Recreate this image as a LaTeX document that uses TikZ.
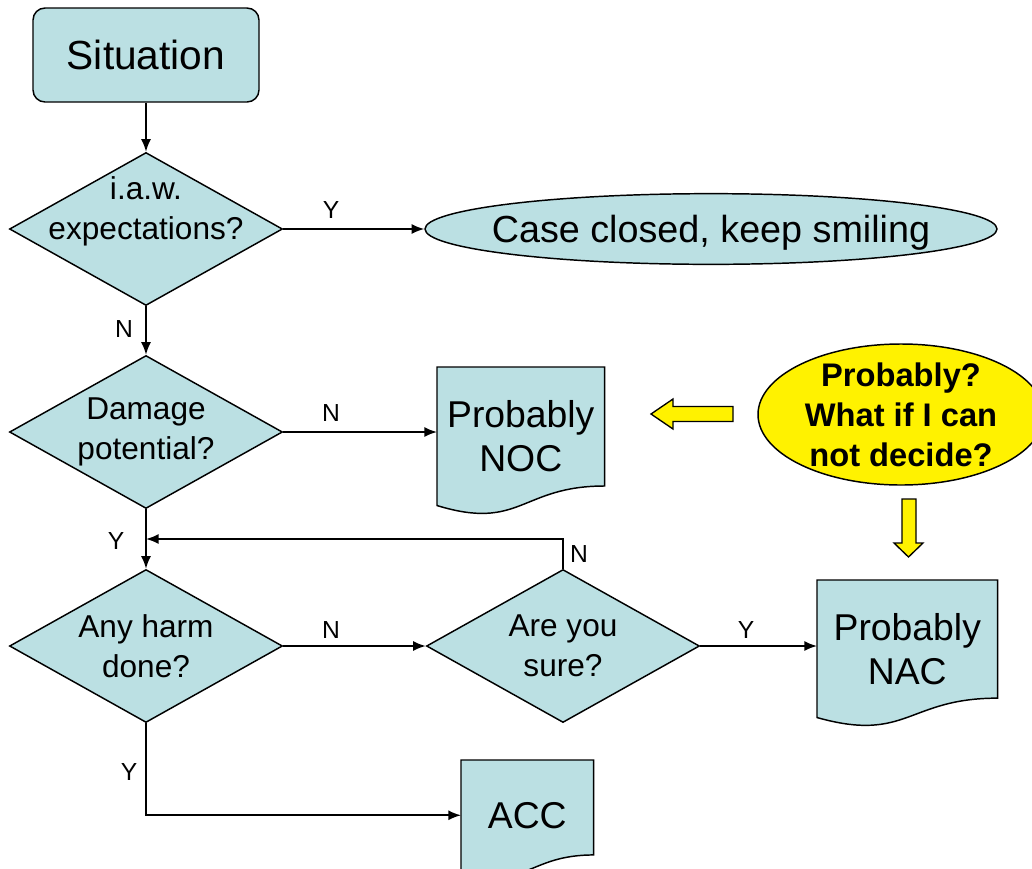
\documentclass[tikz,border=0pt]{standalone}
\usepackage{fontspec}
\setmainfont{Liberation Sans}
\usetikzlibrary{shapes.geometric,arrows.meta,calc,backgrounds}
\definecolor{boxblue}{RGB}{187,224,227}
\tikzset{
  box/.style={draw,fill=boxblue,line width=1.1pt},
  dia/.style={box,diamond,minimum width=204.75pt,minimum height=114.75pt,inner sep=0pt},
  dfont/.style={align=center,font=\fontsize{23.7}{30}\selectfont},
  doc/.style={rectangle,inner sep=0pt,align=center,font=\fontsize{28}{33}\selectfont},
  lbl/.style={font=\fontsize{18.5}{22}\selectfont},
  conn/.style={line width=1.2pt,-{Latex[length=9.5pt,width=7.5pt]}},
}
% document shape round a node
\newcommand\docpath[1]{%
  \path[box] let \p1=(#1.north west), \p2=(#1.south east) in
    (\x1,\y1) -- (\x2,\y1) -- (\x2,{\y1+0.859*(\y2-\y1)})
    .. controls ({0.5*(\x1+\x2)},{\y1+0.859*(\y2-\y1)}) and ({0.5*(\x1+\x2)},{\y1+1.185*(\y2-\y1)}) .. (\x1,\y2) -- cycle;}
\begin{document}
\begin{tikzpicture}[x=0.75pt,y=-0.75pt]
  \useasboundingbox (0,0) rectangle (1032,868);
  \node[box,rounded corners=9pt,minimum width=169.5pt,minimum height=70.5pt,
        font=\fontsize{30.5}{36}\selectfont] (sit) at (146,55) {Situation};
  \node[dia,label={[dfont,yshift=13pt]center:i.a.w.\\expectations?}] (d1) at (146,229) {};
  \node[dia,label={[dfont]center:Damage\\potential?}] (d2) at (146,432) {};
  \node[dia,label={[dfont]center:Any harm\\done?}] (d3) at (146,646) {};
  \node[dia,label={[dfont]center:Are you\\sure?}] (d4) at (563,646) {};
  \node[box,ellipse,minimum width=429pt,minimum height=53pt,
        label={[font=\fontsize{28.3}{34}\selectfont,yshift=-3pt]center:Case closed, keep smiling}] (closed) at (711,229) {};
  \node[draw,fill=yellow,line width=1.1pt,ellipse,minimum width=214.5pt,minimum height=105.75pt,
        label={[align=center,font=\bfseries\fontsize{24.5}{30}\selectfont]center:Probably?\\What if I can\\not decide?}] (ask) at (901,414.5) {};
  % documents
  \node[doc,minimum width=125.25pt,minimum height=103.5pt,anchor=north west] (noc) at (437,367) {Probably\\NOC};
  \node[doc,minimum width=135pt,minimum height=102.75pt,anchor=north west] (nac) at (817,580) {Probably\\NAC};
  \node[doc,minimum width=99pt,minimum height=82.5pt,anchor=north west] (acc) at (461,760) {ACC};
  \begin{scope}[on background layer]
    \docpath{noc}
    \docpath{nac}
    \docpath{acc}
  \end{scope}
  % connectors
  \coordinate (jn) at ($(d2.south)!0.5!(d3.north)$);
  \draw[conn] (sit) -- (d1);
  \draw[conn] (d1) -- (closed);
  \draw[conn] (d1) -- (d2);
  \draw[conn] (d2) -- (d2 -| noc.west);
  \draw[conn] (d2) -- (d3);
  \draw[conn] (d4.north) |- (jn);
  \draw[conn] (d3) -- (d4);
  \draw[conn] (d4) -- (d4 -| nac.west);
  \draw[conn] (d3.south) |- (acc.west);
  % Y / N
  \node[lbl] (y1) at (331,210) {Y};
  \node[lbl] (n1) at (124,329) {N};
  \node[lbl] (n2) at (331,413) {N};
  \node[lbl] (y2) at (116,541) {Y};
  \node[lbl] (n3) at (579,554) {N};
  \node[lbl] (n4) at (331,630) {N};
  \node[lbl] (y3) at (746,630) {Y};
  \node[lbl] (y4) at (129,772) {Y};
  % yellow block arrows
  \filldraw[fill=yellow,line width=1pt] (651,414) -- (673,399) -- (673,406.5) -- (733,406.5)
    -- (733,421.5) -- (673,421.5) -- (673,429) -- cycle;
  \filldraw[fill=yellow,line width=1pt] (908.5,557) -- (894,543) -- (902,543) -- (902,499)
    -- (916,499) -- (916,543) -- (923,543) -- cycle;
\end{tikzpicture}
\end{document}
